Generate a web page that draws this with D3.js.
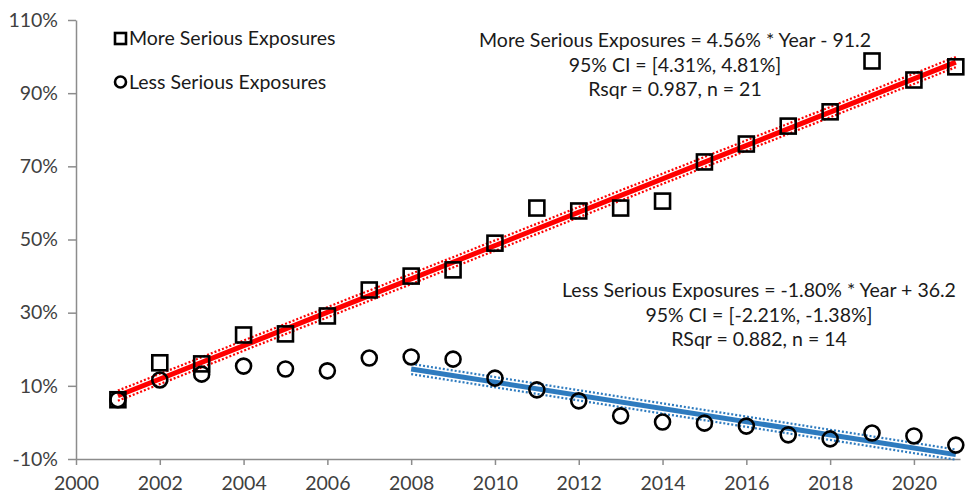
<!doctype html>
<html>
<head>
<meta charset="UTF-8">
<title>Exposures trend</title>
<script src="https://d3js.org/d3.v7.min.js"></script>
<style>
  body { margin: 0; background: #fff; }
  text { font-family: "Lato", "Open Sans", sans-serif; }
</style>
</head>
<body>
<svg id="chart" width="965" height="496"></svg>
<script>
// data
var years = [2001,2002,2003,2004,2005,2006,2007,2008,2009,2010,2011,2012,2013,2014,2015,2016,2017,2018,2019,2020,2021];
var moreSerious = [6.2,16.3,16.0,23.9,24.2,29.1,36.2,40.0,41.7,49.0,58.6,57.8,58.6,60.5,71.2,76.1,81.0,84.9,98.8,93.6,97.2];
var lessSerious = [6.2,11.6,13.2,15.4,14.6,14.1,17.6,17.9,17.3,12.1,8.9,5.9,1.8,0.1,-0.2,-1.0,-3.4,-4.5,-2.9,-3.7,-6.2];

// regression fits (end points) and 95% CI bands
var moreFitYears = [2001, 2021];
var moreFit = [7.3, 98.5];
var moreCiHi = [8.7, 99.9];
var moreCiLo = [5.9, 97.1];

var lessFitYears = [2008, 2021];
var lessFit = [14.6, -8.8];
var lessCiHi = [16.0, -7.4];
var lessCiLo = [13.2, -10.2];

var xTicks = [2000,2002,2004,2006,2008,2010,2012,2014,2016,2018,2020];
var yTicks = [-10,10,30,50,70,90,110];

var legendLabels = ["More Serious Exposures", "Less Serious Exposures"];
var moreNote = ["More Serious Exposures = 4.56% * Year - 91.2", "95% CI = [4.31%, 4.81%]", "Rsqr = 0.987, n = 21"];
var lessNote = ["Less Serious Exposures = -1.80% * Year + 36.2", "95% CI = [-2.21%, -1.38%]", "RSqr = 0.882, n = 14"];

var svg = d3.select("#chart");
var x = d3.scaleLinear().domain([2000, 2021.1]).range([76, 960]);
var y = d3.scaleLinear().domain([-10, 110]).range([459, 20]);

var axisColor = "#8c8c8c";
var textColor = "#404040";
var fontSize = 19.5;

// axes
var xAxis = svg.append("g")
    .attr("transform", "translate(0," + y(-10) + ")")
    .call(d3.axisBottom(x).tickValues(xTicks).tickFormat(d3.format("d")).tickSizeInner(6).tickSizeOuter(0));
var yAxis = svg.append("g")
    .attr("transform", "translate(" + x(2000) + ",0)")
    .call(d3.axisLeft(y).tickValues(yTicks).tickFormat(function(d) { return d + "%"; }).tickSizeInner(8).tickSizeOuter(0));

[xAxis, yAxis].forEach(function(a) {
    a.select(".domain").attr("stroke", axisColor).attr("stroke-width", 1.5);
    a.selectAll(".tick line").attr("stroke", axisColor).attr("stroke-width", 1.5);
    a.selectAll(".tick text").attr("fill", textColor).attr("font-size", fontSize).attr("font-family", "Lato");
});
xAxis.selectAll(".tick text").attr("y", 24).attr("dy", "0.35em");
yAxis.selectAll(".tick text").attr("x", -18);

// fit lines
var line = d3.line().x(function(d) { return x(d[0]); }).y(function(d) { return y(d[1]); });
function pairs(xs, ys) { return xs.map(function(v, i) { return [v, ys[i]]; }); }

function drawFit(xs, fit, hi, lo, color) {
    [hi, lo].forEach(function(band) {
        svg.append("path").datum(pairs(xs, band))
            .attr("d", line).attr("fill", "none")
            .attr("stroke", color).attr("stroke-width", 2.2)
            .attr("stroke-dasharray", "2,2");
    });
    svg.append("path").datum(pairs(xs, fit))
        .attr("d", line).attr("fill", "none")
        .attr("stroke", color).attr("stroke-width", 5);
}
drawFit(moreFitYears, moreFit, moreCiHi, moreCiLo, "#ff0000");
drawFit(lessFitYears, lessFit, lessCiHi, lessCiLo, "#2e7bbf");

// markers
var sq = 15;
svg.selectAll(".sq").data(pairs(years, moreSerious)).enter().append("rect")
    .attr("class", "sq")
    .attr("x", function(d) { return x(d[0]) - sq/2; })
    .attr("y", function(d) { return y(d[1]) - sq/2; })
    .attr("width", sq).attr("height", sq)
    .attr("fill", "none").attr("stroke", "#000").attr("stroke-width", 2.6);

svg.selectAll(".circ").data(pairs(years, lessSerious)).enter().append("circle")
    .attr("class", "circ")
    .attr("cx", function(d) { return x(d[0]); })
    .attr("cy", function(d) { return y(d[1]); })
    .attr("r", 7.5)
    .attr("fill", "none").attr("stroke", "#000").attr("stroke-width", 2.6);

// legend
var lg = svg.append("g");
lg.append("rect").attr("x", 115).attr("y", 33).attr("width", 11).attr("height", 11)
    .attr("fill", "none").attr("stroke", "#000").attr("stroke-width", 2.6);
lg.append("circle").attr("cx", 120.5).attr("cy", 82).attr("r", 5.5)
    .attr("fill", "none").attr("stroke", "#000").attr("stroke-width", 2.6);
lg.selectAll("text").data(legendLabels).enter().append("text")
    .attr("x", 129)
    .attr("y", function(d, i) { return 45 + i * 44; })
    .attr("font-size", fontSize).attr("fill", "#1a1a1a")
    .text(function(d) { return d; });

// annotations
function note(lines, cx, top) {
    svg.append("g").selectAll("text").data(lines).enter().append("text")
        .attr("x", cx)
        .attr("y", function(d, i) { return top + i * 24.5; })
        .attr("text-anchor", "middle")
        .attr("font-size", fontSize).attr("fill", "#1a1a1a")
        .text(function(d) { return d; });
}
note(moreNote, 675, 47);
note(lessNote, 759, 297);
</script>
</body>
</html>
